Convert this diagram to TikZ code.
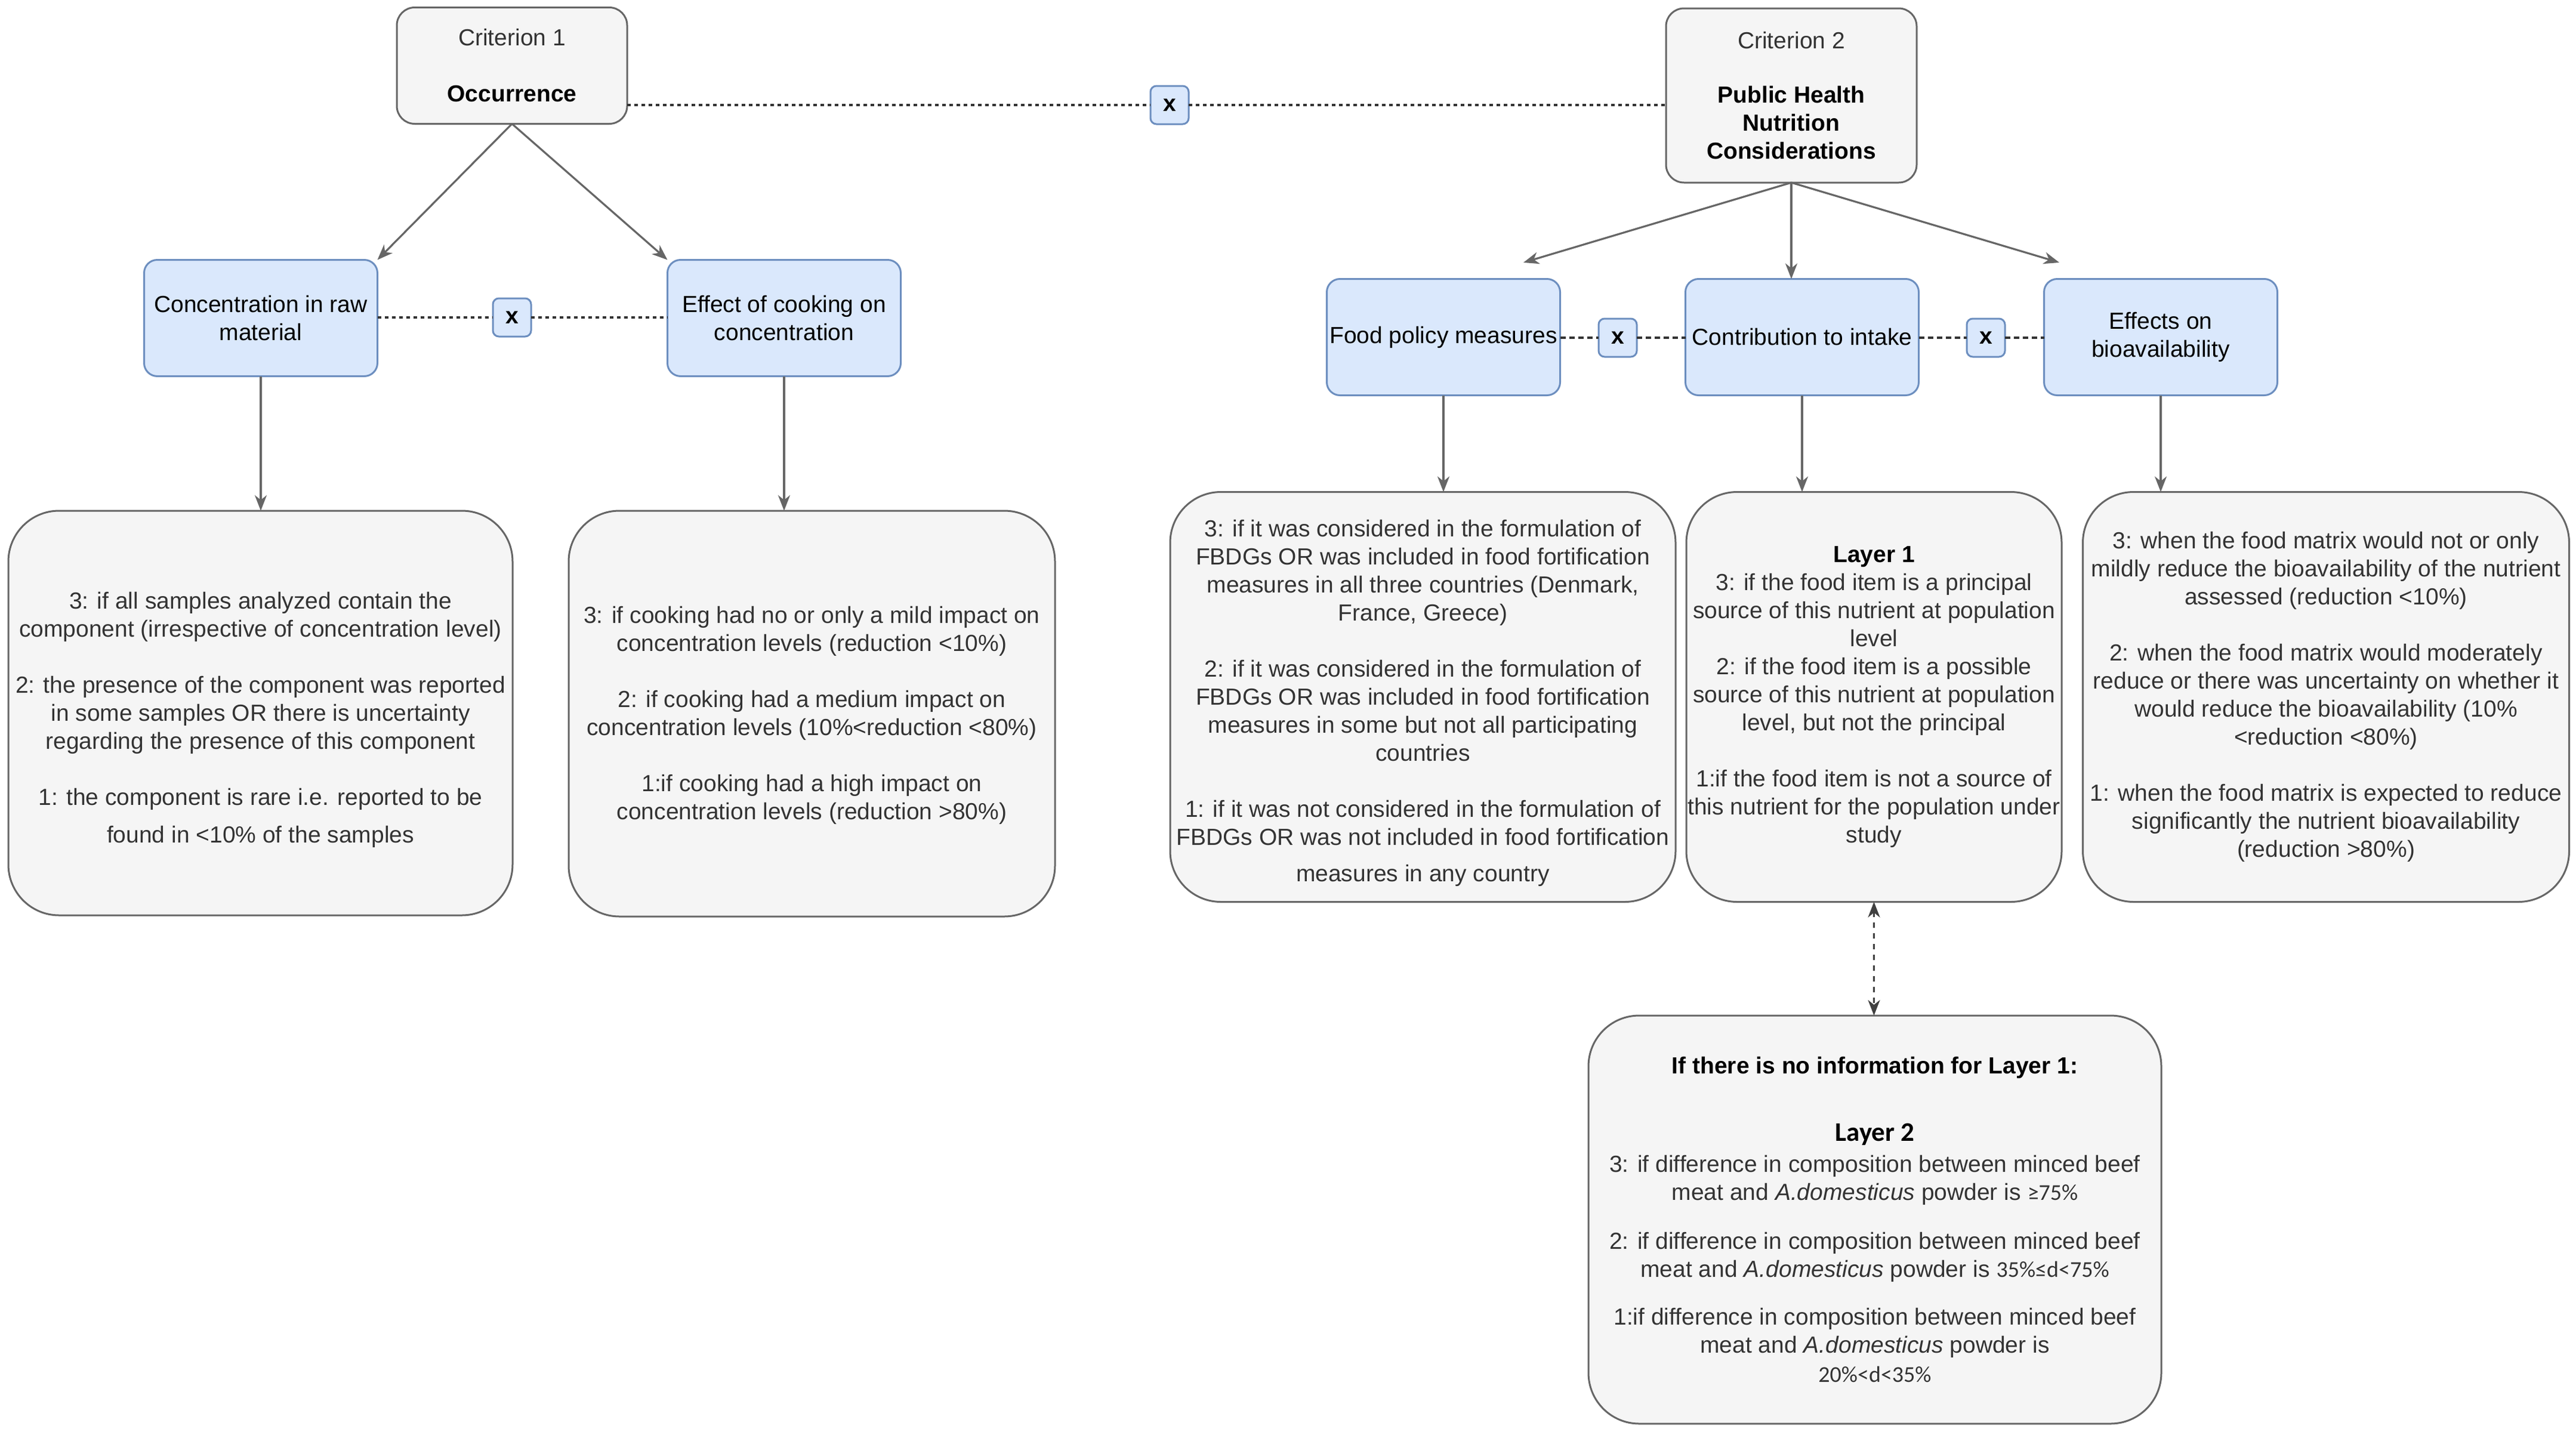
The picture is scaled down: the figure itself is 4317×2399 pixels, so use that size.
\documentclass[tikz,border=0pt]{standalone}
\usepackage{fontspec}
\setmainfont{Liberation Sans}
\newfontfamily\carl{Carlito}
\usetikzlibrary{arrows.meta}
\definecolor{boxfill}{HTML}{F5F5F5}
\definecolor{boxline}{HTML}{666666}
\definecolor{bluefill}{HTML}{DAE8FC}
\definecolor{blueline}{HTML}{6C8EBF}
\definecolor{txt}{HTML}{333333}
\begin{document}
\begin{tikzpicture}[x=1pt,y=-1pt,
  every node/.style={inner sep=0pt, outer sep=0pt},
  base/.style={font=\fontsize{39}{47}\selectfont, align=center},
  critbox/.style={base, draw=boxline, fill=boxfill, line width=3pt, rounded corners=30pt, text=txt},
  bluebox/.style={base, draw=blueline, fill=bluefill, line width=3pt, rounded corners=22pt, minimum width=391pt, minimum height=195pt, text=black},
  xbox/.style={draw=blueline, fill=bluefill, line width=3pt, rounded corners=10pt, minimum width=64pt, minimum height=64pt, font=\fontsize{39}{47}\selectfont\bfseries},
  infobox/.style={base, draw=boxline, fill=boxfill, line width=3pt, rounded corners=85pt, text=txt},
  conn/.style={draw=boxline, line width=3.2pt, -{Stealth[length=26pt,width=20pt,inset=8pt]}},
  dotline/.style={draw=black!80, line width=4pt, dash pattern=on 6pt off 6pt},
  dashline/.style={draw=black!80, line width=4pt, dash pattern=on 9pt off 6pt},
  dblarrow/.style={draw=black!75, line width=3pt, dash pattern=on 9pt off 9pt, {Stealth[length=26pt,width=20pt,inset=8pt]}-{Stealth[length=26pt,width=20pt,inset=8pt]}},
]
\path[use as bounding box, fill=white] (0,0) rectangle (4317,2399);

% criteria
\node[critbox, minimum width=386pt, minimum height=195pt] (crit1) at (858,110)
  {Criterion 1\\[47pt]\textcolor{black}{\textbf{Occurrence}}};
\node[critbox, minimum width=420pt, minimum height=292pt] (crit2) at (3002,160)
  {Criterion 2\\[44pt]\textcolor{black}{\textbf{Public Health}}\\\textcolor{black}{\textbf{Nutrition}}\\\textcolor{black}{\textbf{Considerations}}};
\node[xbox] (xtop) at (1960,176) {x};

% sub-criteria
\node[bluebox] (conc) at (437,533) {Concentration in raw\\material};
\node[bluebox] (cook) at (1314,533) {Effect of cooking on\\concentration};
\node[xbox] (xleft) at (858,532) {x};

\node[bluebox] (food) at (2419,565) {Food policy measures};
\node[bluebox] (contrib) at (3020,565) {Contribution to intake};
\node[bluebox] (bio) at (3621,565) {Effects on\\bioavailability};
\node[xbox] (xtwo) at (2711,566) {x};
\node[xbox] (xthree) at (3328,566) {x};

% info boxes
\node[infobox, minimum width=845pt, minimum height=678pt] (boxA) at (436.5,1195)
  {\rule{0pt}{52pt}3: if all samples analyzed contain the\\
   component (irrespective of concentration level)\\[47pt]
   2: the presence of the component was reported\\
   in some samples OR there is uncertainty\\
   regarding the presence of this component\\[47pt]
   1: the component is rare i.e. reported to be\\[16pt]
   found in <10\% of the samples};

\node[infobox, minimum width=815pt, minimum height=680pt] (boxB) at (1360.5,1196)
  {\rule{0pt}{34pt}3: if cooking had no or only a mild impact on\\
   concentration levels (reduction <10\%)\\[47pt]
   2: if cooking had a medium impact on\\
   concentration levels (10\%<reduction <80\%)\\[47pt]
   1:if cooking had a high impact on\\
   concentration levels (reduction >80\%)};

\node[infobox, minimum width=847pt, minimum height=687pt] (boxC) at (2384.5,1168)
  {\rule{0pt}{50pt}3: if it was considered in the formulation of\\
   FBDGs OR was included in food fortification\\
   measures in all three countries (Denmark,\\
   France, Greece)\\[47pt]
   2: if it was considered in the formulation of\\
   FBDGs OR was included in food fortification\\
   measures in some but not all participating\\
   countries\\[47pt]
   1: if it was not considered in the formulation of\\
   FBDGs OR was not included in food fortification\\[14pt]
   measures in any country};

\node[infobox, minimum width=629pt, minimum height=687pt] (boxD) at (3140.5,1168)
  {\textcolor{black}{\textbf{Layer 1}}\\
   3: if the food item is a principal\\
   source of this nutrient at population\\
   level\\
   2: if the food item is a possible\\
   source of this nutrient at population\\
   level, but not the principal\\[47pt]
   1:if the food item is not a source of\\
   this nutrient for the population under\\
   study};

\node[infobox, minimum width=815pt, minimum height=687pt] (boxE) at (3898,1168)
  {3: when the food matrix would not or only\\
   mildly reduce the bioavailability of the nutrient\\
   assessed (reduction <10\%)\\[47pt]
   2: when the food matrix would moderately\\
   reduce or there was uncertainty on whether it\\
   would reduce the bioavailability (10\%\\
   <reduction <80\%)\\[47pt]
   1: when the food matrix is expected to reduce\\
   significantly the nutrient bioavailability\\
   (reduction >80\%)};

\node[infobox, minimum width=960pt, minimum height=684pt] (boxF) at (3142,2044)
  {\textcolor{black}{\textbf{If there is no information for Layer 1:}}\\[66pt]
   \textcolor{black}{\carl\bfseries\fontsize{45}{47}\selectfont Layer 2}\\[5pt]
   3: if difference in composition between minced beef\\
   meat and \textit{A.domesticus} powder is {\carl\fontsize{38}{47}\selectfont ≥75\%}\\[35pt]
   2: if difference in composition between minced beef\\
   meat and \textit{A.domesticus} powder is {\carl\fontsize{38}{47}\selectfont 35\%≤d<75\%}\\[33pt]
   1:if difference in composition between minced beef\\
   meat and \textit{A.domesticus} powder is\\[2pt]
   {\carl\fontsize{38}{47}\selectfont 20\%<d<35\%}};

% helper coordinates for arrow tips
\coordinate (tfood) at (2553,440);
\coordinate (tbio) at (3451,440);

% connectors
\draw[conn] (crit1.south) -- (conc.north east);
\draw[conn] (crit1.south) -- (cook.north west);
\draw[conn] (crit2.south) -- (tfood);
\draw[conn] (crit2.south) -- (crit2.south |- contrib.north);
\draw[conn] (crit2.south) -- (tbio);

\draw[conn] (conc.south) -- (boxA.north -| conc.south);
\draw[conn] (cook.south) -- (boxB.north -| cook.south);
\draw[conn] (food.south) -- (boxC.north -| food.south);
\draw[conn] (contrib.south) -- (boxD.north -| contrib.south);
\draw[conn] (bio.south) -- (boxE.north -| bio.south);

\draw[dotline] (crit1.east |- xtop.west) -- (xtop.west);
\draw[dotline] (xtop.east) -- (crit2.west |- xtop.east);
\draw[dotline] (conc.east |- xleft.west) -- (xleft.west);
\draw[dotline] (xleft.east) -- (cook.west |- xleft.east);
\draw[dashline] (food.east |- xtwo.west) -- (xtwo.west);
\draw[dashline] (xtwo.east) -- (contrib.west |- xtwo.east);
\draw[dashline] (contrib.east |- xthree.west) -- (xthree.west);
\draw[dashline] (xthree.east) -- (bio.west |- xthree.east);

\draw[dblarrow] (boxD.south) -- (boxF.north -| boxD.south);
\end{tikzpicture}
\end{document}
